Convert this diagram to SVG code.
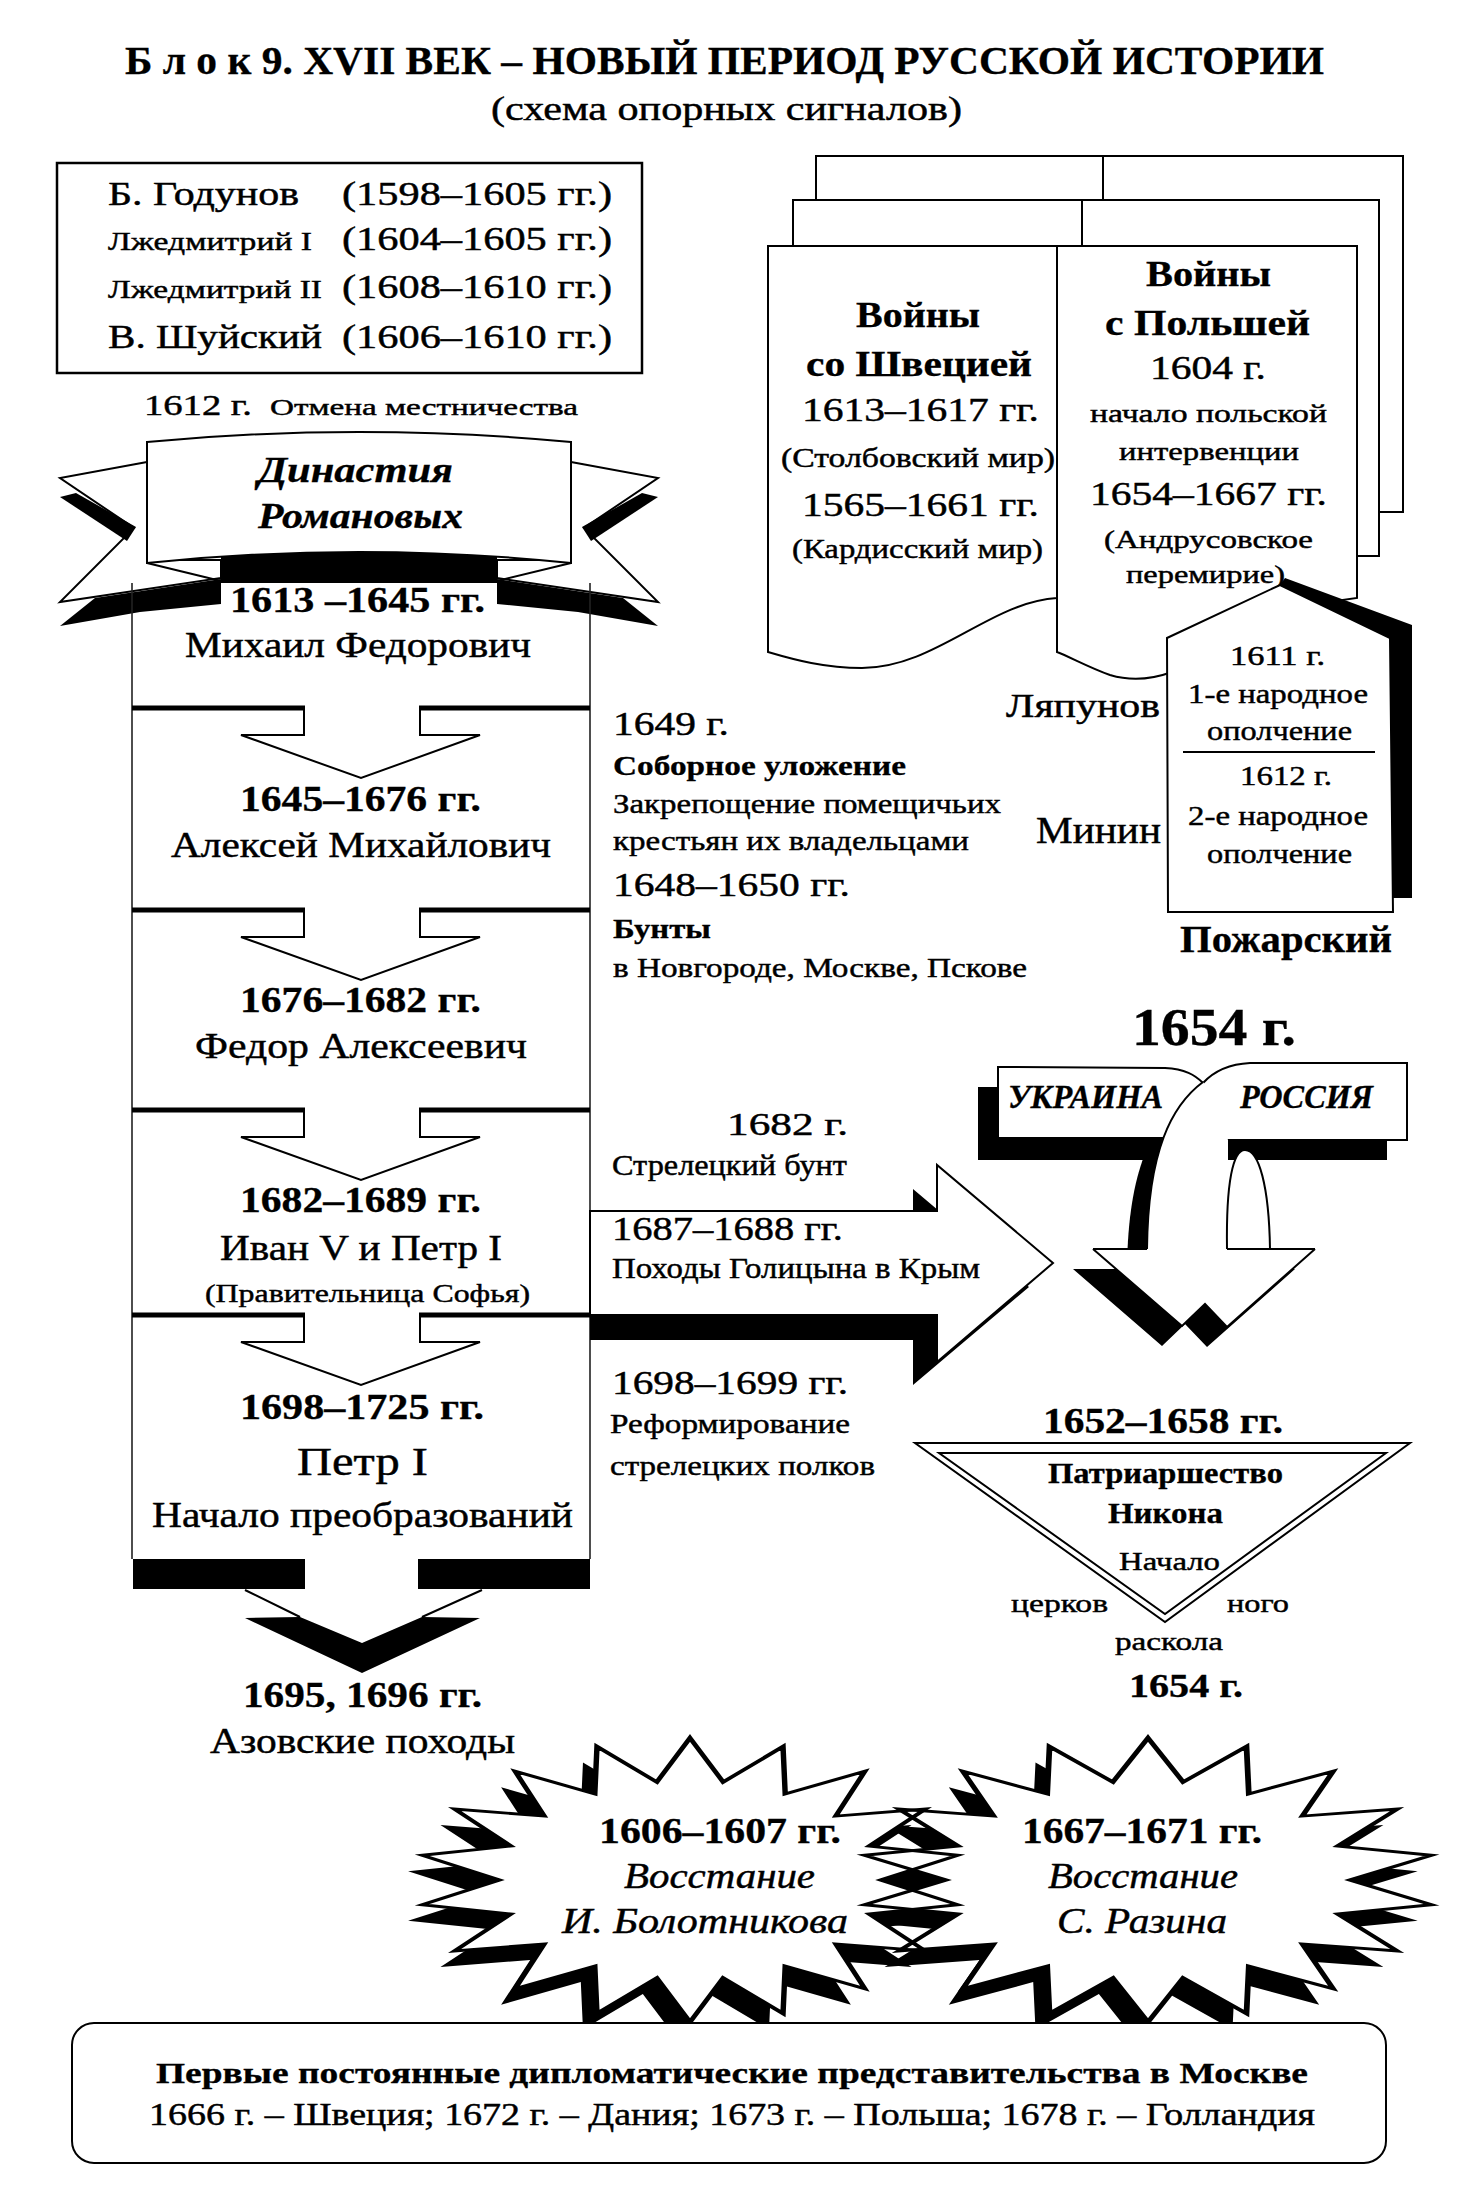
<svg xmlns="http://www.w3.org/2000/svg" xmlns:xlink="http://www.w3.org/1999/xlink" width="1461" height="2185" viewBox="0 0 1461 2185">
<style>
text{font-family:"Liberation Serif","Times New Roman",serif;fill:#000;stroke:#000;stroke-width:0.45}
.b{font-weight:bold;stroke-width:0.3}
.i{font-style:italic}
.ln{fill:none;stroke:#000;stroke-width:2}
.wf{fill:#fff;stroke:#000;stroke-width:2}
.blk{fill:#000;stroke:none}
.thick{fill:none;stroke:#000;stroke-width:5}
.vl{fill:none;stroke:#222;stroke-width:1.6}
</style>
<defs>
<g id="sepShape">
<path class="thick" d="M132,0 H305 M419,0 H590"/>
<path class="ln" d="M304,0 V27 H241 L361,70 L480,27 H420 V0"/>
</g>
<polygon id="starPts" points="0,-100 12.2,-69 34.2,-94 35,-60.6 64.3,-76.6 53.6,-45 86.6,-50 65.8,-23.9 98.5,-17.4 70,0 98.5,17.4 65.8,23.9 86.6,50 53.6,45 64.3,76.6 35,60.6 34.2,94 12.2,69 0,100 -12.2,69 -34.2,94 -35,60.6 -64.3,76.6 -53.6,45 -86.6,50 -65.8,23.9 -98.5,17.4 -70,0 -98.5,-17.4 -65.8,-23.9 -86.6,-50 -53.6,-45 -64.3,-76.6 -35,-60.6 -34.2,-94 -12.2,-69"/>
</defs>
<rect width="1461" height="2185" fill="#fff"/>

<g id="title">
<text class="b" x="125" y="74" font-size="39" textLength="1199" lengthAdjust="spacingAndGlyphs">Б л о к 9. XVII ВЕК – НОВЫЙ ПЕРИОД РУССКОЙ ИСТОРИИ</text>
<text x="491" y="120" font-size="33" textLength="471" lengthAdjust="spacingAndGlyphs">(схема опорных сигналов)</text>
</g>

<g id="rulers">
<rect x="57" y="163" width="585" height="210" fill="#fff" stroke="#000" stroke-width="2.5"/>
<text x="108" y="205" font-size="33" textLength="191" lengthAdjust="spacingAndGlyphs">Б. Годунов</text>
<text x="342" y="205" font-size="33" textLength="270" lengthAdjust="spacingAndGlyphs">(1598–1605 гг.)</text>
<text x="108" y="250" font-size="26" textLength="204" lengthAdjust="spacingAndGlyphs">Лжедмитрий I</text>
<text x="342" y="250" font-size="33" textLength="270" lengthAdjust="spacingAndGlyphs">(1604–1605 гг.)</text>
<text x="108" y="298" font-size="26" textLength="214" lengthAdjust="spacingAndGlyphs">Лжедмитрий II</text>
<text x="342" y="298" font-size="33" textLength="270" lengthAdjust="spacingAndGlyphs">(1608–1610 гг.)</text>
<text x="108" y="348" font-size="33" textLength="214" lengthAdjust="spacingAndGlyphs">В. Шуйский</text>
<text x="342" y="348" font-size="33" textLength="270" lengthAdjust="spacingAndGlyphs">(1606–1610 гг.)</text>
</g>

<g id="mestnichestvo">
<text x="144" y="415" font-size="30" textLength="108" lengthAdjust="spacingAndGlyphs">1612 г.</text>
<text x="270" y="415" font-size="24" textLength="308" lengthAdjust="spacingAndGlyphs">Отмена местничества</text>
</g>

<g id="wars">
<path class="wf" d="M816,200 V156 H1403 V512 H1379"/>
<path class="ln" d="M1103,156 V200"/>
<path class="wf" d="M793,246 V200 H1379 V556 H1357"/>
<path class="ln" d="M1082,200 V246"/>
<path class="wf" d="M768,246 H1057 V598 C990,602 935,668 862,668 C825,668 795,660 768,652 Z"/>
<path class="wf" d="M1057,246 H1357 V598 L1300,606 L1172,672 C1150,680 1130,681 1110,675 C1090,668 1070,657 1057,652 Z"/>
<text class="b" x="856" y="327" font-size="35" textLength="124" lengthAdjust="spacingAndGlyphs">Войны</text>
<text class="b" x="806" y="376" font-size="35" textLength="226" lengthAdjust="spacingAndGlyphs">со Швецией</text>
<text x="802" y="421" font-size="33" textLength="237" lengthAdjust="spacingAndGlyphs">1613–1617 гг.</text>
<text x="781" y="467" font-size="27" textLength="274" lengthAdjust="spacingAndGlyphs">(Столбовский мир)</text>
<text x="802" y="516" font-size="33" textLength="237" lengthAdjust="spacingAndGlyphs">1565–1661 гг.</text>
<text x="792" y="558" font-size="27" textLength="251" lengthAdjust="spacingAndGlyphs">(Кардисский мир)</text>
<text class="b" x="1146" y="286" font-size="35" textLength="125" lengthAdjust="spacingAndGlyphs">Войны</text>
<text class="b" x="1105" y="335" font-size="35" textLength="205" lengthAdjust="spacingAndGlyphs">с Польшей</text>
<text x="1150" y="379" font-size="33" textLength="116" lengthAdjust="spacingAndGlyphs">1604 г.</text>
<text x="1090" y="422" font-size="26" textLength="237" lengthAdjust="spacingAndGlyphs">начало польской</text>
<text x="1119" y="460" font-size="26" textLength="180" lengthAdjust="spacingAndGlyphs">интервенции</text>
<text x="1090" y="505" font-size="33" textLength="237" lengthAdjust="spacingAndGlyphs">1654–1667 гг.</text>
<text x="1104" y="548" font-size="26" textLength="209" lengthAdjust="spacingAndGlyphs">(Андрусовское</text>
<text x="1126" y="583" font-size="26" textLength="159" lengthAdjust="spacingAndGlyphs">перемирие)</text>
</g>

<g id="militia">
<polygon class="blk" points="1280,585 1285,578 1412,625 1412,898 1393,898 1390,638"/>
<polygon class="wf" points="1280,585 1390,638 1393,912 1168,912 1167,638"/>
<path class="ln" d="M1183,752 H1375"/>
<text x="1230" y="665" font-size="28" textLength="95" lengthAdjust="spacingAndGlyphs">1611 г.</text>
<text x="1188" y="703" font-size="28" textLength="180" lengthAdjust="spacingAndGlyphs">1-е народное</text>
<text x="1207" y="740" font-size="28" textLength="145" lengthAdjust="spacingAndGlyphs">ополчение</text>
<text x="1240" y="785" font-size="28" textLength="92" lengthAdjust="spacingAndGlyphs">1612 г.</text>
<text x="1188" y="825" font-size="28" textLength="180" lengthAdjust="spacingAndGlyphs">2-е народное</text>
<text x="1207" y="863" font-size="28" textLength="145" lengthAdjust="spacingAndGlyphs">ополчение</text>
<text x="1006" y="717" font-size="33" textLength="154" lengthAdjust="spacingAndGlyphs">Ляпунов</text>
<text x="1036" y="843" font-size="37" textLength="125" lengthAdjust="spacingAndGlyphs">Минин</text>
<text class="b" x="1180" y="952" font-size="38" textLength="212" lengthAdjust="spacingAndGlyphs">Пожарский</text>
</g>

<g id="ribbon">
<g id="tailL">
<polygon class="wf" points="147,462 60,478 134,528 60,602 221,578 221,560 147,560"/>
<polygon class="blk" points="60,497 76,493 136,527 127,541"/>
<polygon class="blk" points="60,626 95,598 221,579 221,604 140,612"/>
<path class="ln" d="M147,563 L221,581"/>
</g>
<use xlink:href="#tailL" href="#tailL" transform="translate(718,0) scale(-1,1)"/>
<path class="blk" d="M221,548 Q359,530 497,548 L497,583 L221,583 Z"/>
<path class="wf" d="M147,442 Q359,422 571,442 L571,563 Q359,541 147,563 Z"/>
<text class="b i" x="258" y="482" font-size="36" textLength="195" lengthAdjust="spacingAndGlyphs">Династия</text>
<text class="b i" x="258" y="528" font-size="36" textLength="205" lengthAdjust="spacingAndGlyphs">Романовых</text>
</g>

<g id="reigns">
<path class="vl" d="M132,583 V1559 M590,583 V1559"/>
<text class="b" x="230" y="612" font-size="35" textLength="255" lengthAdjust="spacingAndGlyphs">1613 –1645 гг.</text>
<text x="185" y="657" font-size="35" textLength="346" lengthAdjust="spacingAndGlyphs">Михаил Федорович</text>
<text class="b" x="240" y="811" font-size="35" textLength="241" lengthAdjust="spacingAndGlyphs">1645–1676 гг.</text>
<text x="171" y="857" font-size="35" textLength="380" lengthAdjust="spacingAndGlyphs">Алексей Михайлович</text>
<text class="b" x="240" y="1012" font-size="35" textLength="241" lengthAdjust="spacingAndGlyphs">1676–1682 гг.</text>
<text x="195" y="1058" font-size="35" textLength="332" lengthAdjust="spacingAndGlyphs">Федор Алексеевич</text>
<text class="b" x="240" y="1212" font-size="35" textLength="241" lengthAdjust="spacingAndGlyphs">1682–1689 гг.</text>
<text x="220" y="1260" font-size="35" textLength="282" lengthAdjust="spacingAndGlyphs">Иван V и Петр I</text>
<text x="205" y="1302" font-size="26" textLength="325" lengthAdjust="spacingAndGlyphs">(Правительница Софья)</text>
<text class="b" x="240" y="1419" font-size="35" textLength="244" lengthAdjust="spacingAndGlyphs">1698–1725 гг.</text>
<text x="297" y="1475" font-size="41" textLength="131" lengthAdjust="spacingAndGlyphs">Петр I</text>
<text x="152" y="1527" font-size="35" textLength="421" lengthAdjust="spacingAndGlyphs">Начало преобразований</text>
</g>

<g id="azov">
<text class="b" x="243" y="1707" font-size="35" textLength="239" lengthAdjust="spacingAndGlyphs">1695, 1696 гг.</text>
<text x="210" y="1753" font-size="35" textLength="305" lengthAdjust="spacingAndGlyphs">Азовские походы</text>
</g>

<g id="events">
<text x="613" y="735" font-size="33" textLength="116" lengthAdjust="spacingAndGlyphs">1649 г.</text>
<text class="b" x="613" y="775" font-size="28" textLength="293" lengthAdjust="spacingAndGlyphs">Соборное уложение</text>
<text x="613" y="813" font-size="28" textLength="388" lengthAdjust="spacingAndGlyphs">Закрепощение помещичьих</text>
<text x="613" y="850" font-size="28" textLength="356" lengthAdjust="spacingAndGlyphs">крестьян их владельцами</text>
<text x="613" y="896" font-size="33" textLength="237" lengthAdjust="spacingAndGlyphs">1648–1650 гг.</text>
<text class="b" x="613" y="938" font-size="28" textLength="98" lengthAdjust="spacingAndGlyphs">Бунты</text>
<text x="613" y="977" font-size="28" textLength="414" lengthAdjust="spacingAndGlyphs">в Новгороде, Москве, Пскове</text>
</g>

<g id="connectors">
<use xlink:href="#sepShape" href="#sepShape" transform="translate(0,708)"/>
<use xlink:href="#sepShape" href="#sepShape" transform="translate(0,910)"/>
<use xlink:href="#sepShape" href="#sepShape" transform="translate(0,1110)"/>
<use xlink:href="#sepShape" href="#sepShape" transform="translate(0,1315)"/>
<rect class="blk" x="133" y="1559" width="172" height="30"/>
<rect class="blk" x="418" y="1559" width="172" height="30"/>
<path class="ln" d="M245,1590 L300,1617 M482,1590 L422,1617"/>
<polygon class="blk" points="245,1618 300,1617 362,1643 422,1617 480,1618 362,1673"/>
<polygon class="blk" points="590,1236 913,1236 913,1189 1029,1287 913,1385 913,1340 590,1340"/>
<polygon class="wf" points="590,1211 937,1211 937,1165 1053,1263 937,1362 937,1315 590,1315"/>
</g>

<g id="streltsy">
<text x="727" y="1135" font-size="32" textLength="121" lengthAdjust="spacingAndGlyphs">1682 г.</text>
<text x="612" y="1175" font-size="29" textLength="235" lengthAdjust="spacingAndGlyphs">Стрелецкий бунт</text>
<text x="612" y="1240" font-size="33" textLength="231" lengthAdjust="spacingAndGlyphs">1687–1688 гг.</text>
<text x="612" y="1278" font-size="29" textLength="368" lengthAdjust="spacingAndGlyphs">Походы Голицына в Крым</text>
<text x="612" y="1394" font-size="33" textLength="236" lengthAdjust="spacingAndGlyphs">1698–1699 гг.</text>
<text x="610" y="1433" font-size="28" textLength="240" lengthAdjust="spacingAndGlyphs">Реформирование</text>
<text x="610" y="1475" font-size="28" textLength="265" lengthAdjust="spacingAndGlyphs">стрелецких полков</text>
</g>

<g id="ukraine">
<text class="b" x="1132" y="1045" font-size="52" textLength="164" lengthAdjust="spacingAndGlyphs">1654 г.</text>
<path class="blk" d="M1183,1102 C1152,1125 1128,1170 1127,1269 L1207,1269 L1207,1102 Z"/>
<polygon class="blk" points="1073,1269 1162,1346 1185,1324 1207,1347 1295,1269"/>
<rect class="blk" x="978" y="1087" width="409" height="73"/>
<path class="wf" stroke-width="2.5" d="M998,1067 L1165,1068 C1185,1069 1195,1075 1203,1083 L1203,1138 L998,1138 Z"/>
<path class="wf" stroke-width="2.5" d="M1203,1083 C1215,1070 1230,1064 1250,1063 L1407,1063 L1407,1140 L1203,1140 Z"/>
<path fill="#fff" d="M1203,1082 C1172,1105 1148,1150 1147,1249 L1228,1249 L1228,1140 L1212,1095 Z"/>
<polygon fill="#fff" points="1093,1249 1182,1326 1205,1304 1227,1327 1315,1249"/>
<path class="wf" d="M1227,1249 C1226,1182 1233,1150 1245,1150 C1259,1150 1269,1186 1270,1249"/>
<path class="ln" d="M1203,1082 C1172,1105 1148,1150 1147,1249 M1093,1249 H1147 M1227,1249 H1315 M1093,1249 L1182,1326 L1205,1304 L1227,1327 L1315,1249"/>
<text class="b i" x="1008" y="1108" font-size="33" textLength="155" lengthAdjust="spacingAndGlyphs">УКРАИНА</text>
<text class="b i" x="1240" y="1108" font-size="33" textLength="133" lengthAdjust="spacingAndGlyphs">РОССИЯ</text>
</g>

<g id="nikon">
<text class="b" x="1043" y="1433" font-size="35" textLength="240" lengthAdjust="spacingAndGlyphs">1652–1658 гг.</text>
<polygon class="ln" points="915,1443 1410,1443 1165,1622"/>
<path class="ln" stroke-width="3.5" d="M915,1443 H1410"/>
<polygon class="ln" points="939,1453 1386,1453 1165,1614"/>
<text class="b" x="1048" y="1483" font-size="29" textLength="235" lengthAdjust="spacingAndGlyphs">Патриаршество</text>
<text class="b" x="1108" y="1523" font-size="29" textLength="115" lengthAdjust="spacingAndGlyphs">Никона</text>
<text x="1119" y="1570" font-size="26" textLength="101" lengthAdjust="spacingAndGlyphs">Начало</text>
<text x="1011" y="1612" font-size="26" textLength="97" lengthAdjust="spacingAndGlyphs">церков</text>
<text x="1227" y="1612" font-size="26" textLength="62" lengthAdjust="spacingAndGlyphs">ного</text>
<text x="1115" y="1650" font-size="26" textLength="108" lengthAdjust="spacingAndGlyphs">раскола</text>
<text class="b" x="1129" y="1697" font-size="33" textLength="114" lengthAdjust="spacingAndGlyphs">1654 г.</text>
</g>

<g id="uprisings">
<use xlink:href="#starPts" href="#starPts" class="blk" transform="translate(676,1896) scale(2.72,1.42)"/>
<use xlink:href="#starPts" href="#starPts" class="blk" transform="translate(1134,1896) scale(2.88,1.42)"/>
<use xlink:href="#starPts" href="#starPts" fill="#fff" transform="translate(690,1880) scale(2.72,1.42)"/>
<use xlink:href="#starPts" href="#starPts" fill="#fff" transform="translate(1148,1880) scale(2.88,1.42)"/>
<use xlink:href="#starPts" href="#starPts" fill="none" stroke="#000" stroke-width="2" vector-effect="non-scaling-stroke" transform="translate(690,1880) scale(2.72,1.42)"/>
<use xlink:href="#starPts" href="#starPts" fill="none" stroke="#000" stroke-width="2" vector-effect="non-scaling-stroke" transform="translate(1148,1880) scale(2.88,1.42)"/>
<text class="b" x="599" y="1843" font-size="35" textLength="242" lengthAdjust="spacingAndGlyphs">1606–1607 гг.</text>
<text class="i" x="624" y="1888" font-size="35" textLength="191" lengthAdjust="spacingAndGlyphs">Восстание</text>
<text class="i" x="562" y="1933" font-size="35" textLength="286" lengthAdjust="spacingAndGlyphs">И. Болотникова</text>
<text class="b" x="1022" y="1843" font-size="35" textLength="240" lengthAdjust="spacingAndGlyphs">1667–1671 гг.</text>
<text class="i" x="1048" y="1888" font-size="35" textLength="190" lengthAdjust="spacingAndGlyphs">Восстание</text>
<text class="i" x="1057" y="1933" font-size="35" textLength="170" lengthAdjust="spacingAndGlyphs">С. Разина</text>
</g>

<g id="diplomacy">
<rect x="72" y="2023" width="1314" height="140" rx="22" fill="#fff" stroke="#000" stroke-width="2"/>
<text class="b" x="156" y="2083" font-size="30" textLength="1152" lengthAdjust="spacingAndGlyphs">Первые постоянные дипломатические представительства в Москве</text>
<text x="149" y="2125" font-size="31" textLength="1166" lengthAdjust="spacingAndGlyphs">1666 г. – Швеция; 1672 г. – Дания; 1673 г. – Польша; 1678 г. – Голландия</text>
</g>
</svg>
